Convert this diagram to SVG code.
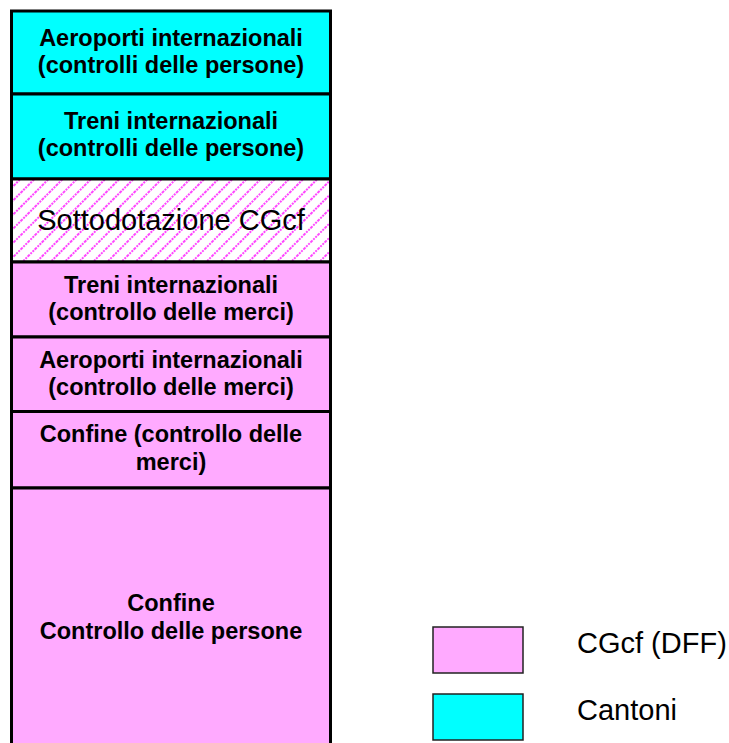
<svg xmlns="http://www.w3.org/2000/svg" width="729" height="743" viewBox="0 0 729 743">
  <defs>
    <pattern id="hatch" patternUnits="userSpaceOnUse" width="10" height="10" patternTransform="rotate(45)">
      <rect width="10" height="10" fill="#ffffff"/>
      <line x1="1" y1="0" x2="1" y2="10" stroke="#ff33ff" stroke-width="1.8" stroke-dasharray="2 1"/>
    </pattern>
  </defs>
  <style>
    .cantoni { fill: #00ffff; stroke: #000; stroke-width: 3; }
    .cgcf { fill: #ffaaff; stroke: #000; stroke-width: 3; }
    .under { fill: url(#hatch); stroke: #000; stroke-width: 3; }
    .lbl { font-family: "Liberation Sans", Arial, sans-serif; font-size: 23.5px; font-weight: bold; fill: #000; text-anchor: middle; }
    .big { font-family: "Liberation Sans", Arial, sans-serif; font-size: 29px; fill: #000; }
    .key { stroke: #222; stroke-width: 1.5; }
  </style>
  <rect width="729" height="743" fill="#ffffff"/>

  <!-- stacked column of allocation blocks -->
  <g id="aeroporti-persone">
    <rect class="cantoni" x="11.5" y="11" width="319" height="83"/>
    <text class="lbl" x="171" y="45.5">Aeroporti internazionali</text>
    <text class="lbl" x="171" y="73">(controlli delle persone)</text>
  </g>
  <g id="treni-persone">
    <rect class="cantoni" x="11.5" y="94" width="319" height="85"/>
    <text class="lbl" x="171" y="128.5">Treni internazionali</text>
    <text class="lbl" x="171" y="155.5">(controlli delle persone)</text>
  </g>
  <g id="sottodotazione">
    <rect class="under" x="11.5" y="179" width="319" height="83"/>
    <text class="big" x="171" y="230" text-anchor="middle">Sottodotazione CGcf</text>
  </g>
  <g id="treni-merci">
    <rect class="cgcf" x="11.5" y="262" width="319" height="75"/>
    <text class="lbl" x="171" y="292.5">Treni internazionali</text>
    <text class="lbl" x="171" y="320">(controllo delle merci)</text>
  </g>
  <g id="aeroporti-merci">
    <rect class="cgcf" x="11.5" y="337" width="319" height="74.5"/>
    <text class="lbl" x="171" y="367.5">Aeroporti internazionali</text>
    <text class="lbl" x="171" y="395">(controllo delle merci)</text>
  </g>
  <g id="confine-merci">
    <rect class="cgcf" x="11.5" y="411.5" width="319" height="76.5"/>
    <text class="lbl" x="171" y="442">Confine (controllo delle</text>
    <text class="lbl" x="171" y="470">merci)</text>
  </g>
  <g id="confine-persone">
    <rect class="cgcf" x="11.5" y="488" width="319" height="270"/>
    <text class="lbl" x="171" y="611">Confine</text>
    <text class="lbl" x="171" y="638.5">Controllo delle persone</text>
  </g>

  <!-- legend -->
  <g id="legend-cgcf">
    <rect class="key" x="433" y="627" width="90" height="46" fill="#ffaaff"/>
    <text class="big" x="577" y="653">CGcf (DFF)</text>
  </g>
  <g id="legend-cantoni">
    <rect class="key" x="433" y="694" width="90" height="46" fill="#00ffff"/>
    <text class="big" x="577" y="720">Cantoni</text>
  </g>

  <g id="connectors"/>
</svg>
